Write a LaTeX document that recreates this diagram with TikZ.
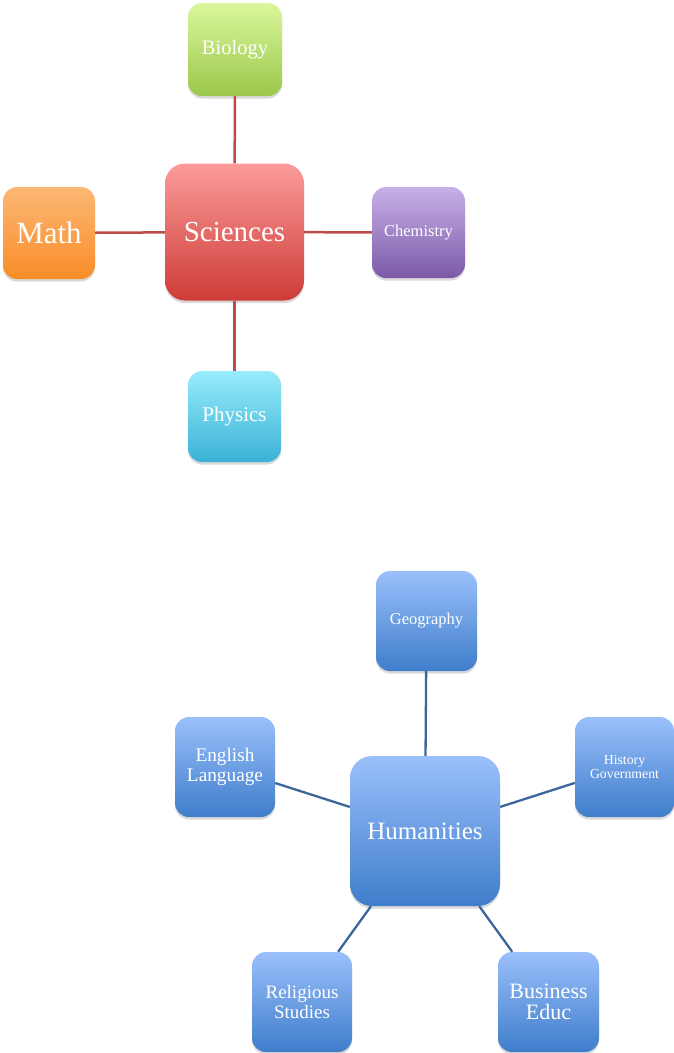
\documentclass[tikz,border=0pt]{standalone}
\usepackage{fontspec}
\setmainfont{Liberation Serif}
\usetikzlibrary{shadows}
\definecolor{redline}{HTML}{BE4B48}
\definecolor{blueline}{HTML}{3B6699}
\tikzset{
  box/.style={rectangle, rounded corners=14pt, inner sep=0pt, text=white, align=center,
    minimum width=100pt, minimum height=100pt,
    drop shadow={shadow xshift=0pt, shadow yshift=-2.5pt, opacity=0.25, fill=black!60}},
  bluebox/.style={box, top color=blueTop, bottom color=blueBot},
  redcon/.style={draw=redline, line width=2.5pt},
  bluecon/.style={draw=blueline, line width=2.3pt},
}
\definecolor{blueTop}{HTML}{9AC0FB}
\definecolor{blueBot}{HTML}{3F7DCB}
\definecolor{bioTop}{HTML}{DAF79C}
\definecolor{bioBot}{HTML}{9BC74A}
\definecolor{sciTop}{HTML}{FB9C9A}
\definecolor{sciBot}{HTML}{CE3B37}
\definecolor{mathTop}{HTML}{FCB775}
\definecolor{mathBot}{HTML}{F98D28}
\definecolor{chemTop}{HTML}{C7B0E8}
\definecolor{chemBot}{HTML}{7C59A8}
\definecolor{phyTop}{HTML}{98ECFC}
\definecolor{phyBot}{HTML}{3AB2D6}
\begin{document}
\begin{tikzpicture}[x=1pt,y=-1pt]
\useasboundingbox (0,0) rectangle (674,1053);
% Sciences group
\node[box, minimum width=139pt, minimum height=137pt, rounded corners=20pt, top color=sciTop, bottom color=sciBot,
  font=\fontsize{29}{32}\selectfont] (sci) at (234.5,232) {Sciences};
\node[box, minimum width=94pt, minimum height=93pt, top color=bioTop, bottom color=bioBot,
  font=\fontsize{20.5}{23}\selectfont] (bio) at (235,49.5) {Biology};
\node[box, minimum width=92pt, minimum height=92pt, top color=mathTop, bottom color=mathBot,
  font=\fontsize{31}{34}\selectfont] (math) at (49,233) {Math};
\node[box, minimum width=93pt, minimum height=91pt, top color=chemTop, bottom color=chemBot,
  font=\fontsize{16.5}{19}\selectfont] (chem) at (418.5,232.5) {Chemistry};
\node[box, minimum width=93pt, minimum height=91pt, top color=phyTop, bottom color=phyBot,
  font=\fontsize{21}{24}\selectfont] (phy) at (234.5,416.5) {Physics};
\draw[redcon] (sci) -- (bio);
\draw[redcon] (sci) -- (math);
\draw[redcon] (sci) -- (chem);
\draw[redcon] (sci) -- (phy);
% Humanities group
\node[bluebox, minimum width=150pt, minimum height=150pt, rounded corners=22pt,
  font=\fontsize{25}{28}\selectfont] (hum) at (425,831) {Humanities};
\node[bluebox, minimum width=101pt, font=\fontsize{16.5}{19}\selectfont] (geo) at (426.5,621) {Geography};
\node[bluebox, minimum width=99pt, font=\fontsize{13.8}{13.5}\selectfont] (hist) at (624.5,767) {History\\Government};
\node[bluebox, font=\fontsize{19.3}{19.5}\selectfont] (eng) at (225,767) {English\\Language};
\node[bluebox, font=\fontsize{19}{20}\selectfont] (rel) at (302,1002) {Religious\\Studies};
\node[bluebox, minimum width=101pt, font=\fontsize{22}{21}\selectfont] (bus) at (548.5,1002) {Business\\Educ};
\draw[bluecon] (hum) -- (geo);
\draw[bluecon] (hum) -- (hist);
\draw[bluecon] (hum) -- (eng);
\draw[bluecon] (hum) -- (rel);
\draw[bluecon] (hum) -- (bus);
\end{tikzpicture}
\end{document}
